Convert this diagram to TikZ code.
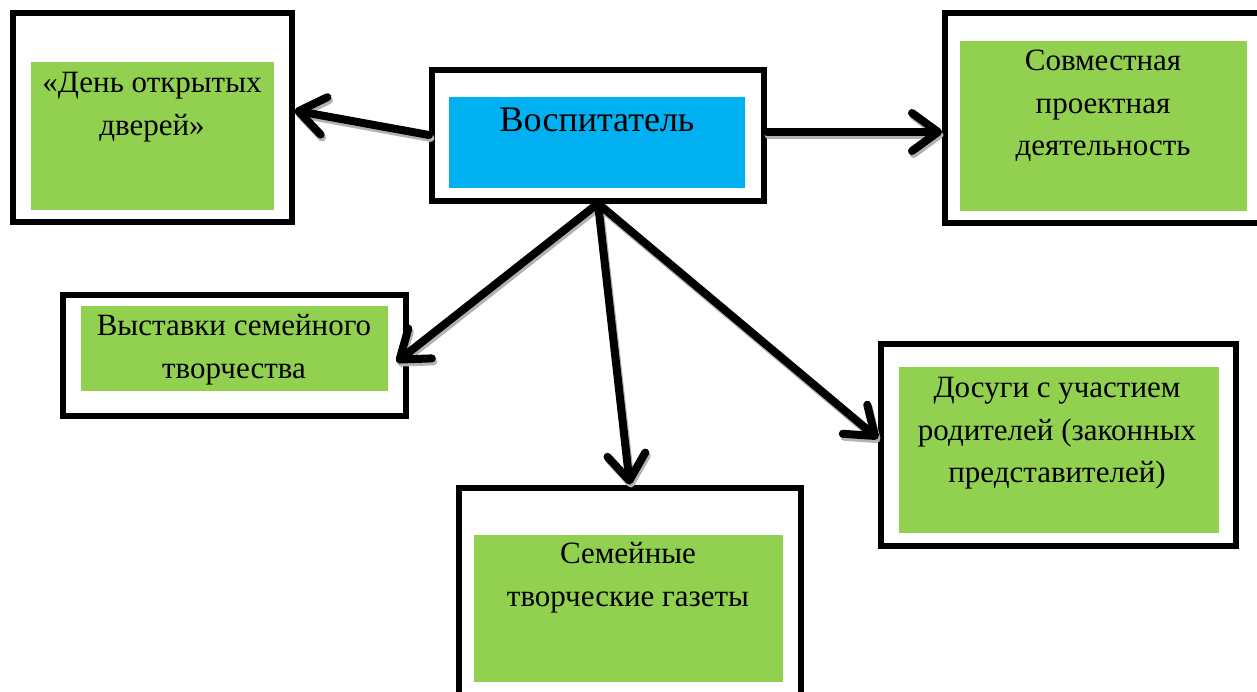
\documentclass[tikz,border=0pt]{standalone}
\usepackage{fontspec}
\setmainfont{Liberation Serif}
\newfontfamily\serfont{Liberation Serif}
\usetikzlibrary{arrows.meta}
\definecolor{boxgreen}{HTML}{92D050}
\definecolor{boxblue}{HTML}{00B0F0}
\tikzset{
  outerbox/.style={draw=black, line width=6pt, fill=white, rectangle, inner sep=0pt},
  greenbox/.style={fill=boxgreen, rectangle, inner sep=0pt, draw=none},
  bluebox/.style={fill=boxblue, rectangle, inner sep=0pt, draw=none},
  label/.style={anchor=north, align=center, inner sep=0pt, font={\serfont\fontsize{31}{42.5}\selectfont}},
  biglabel/.style={anchor=north, align=center, inner sep=0pt, font={\serfont\fontsize{36}{43}\selectfont}},
  connbase/.style={line width=8pt, line cap=round, line join=round,
    -{Straight Barb[length=26pt,width=38pt,round]}},
  conn/.style={connbase, draw=black},
  connshadow/.style={connbase, draw=gray!60, transform canvas={xshift=1.5pt,yshift=-3pt}}
}
\begin{document}
\begin{tikzpicture}[x=1pt,y=-1pt]
\useasboundingbox (0,0) rectangle (1257,691);
\clip (0,0) rectangle (1257,691);
\fill[white] (0,0) rectangle (1257,691);

% outer frames
\node[outerbox, minimum width=278.5pt, minimum height=209pt] (b1) at (152.25,117.5) {};
\node[outerbox, minimum width=332pt, minimum height=131pt] (c) at (598,135) {};
\node[outerbox, minimum width=317pt, minimum height=210pt] (b2) at (1103.5,118) {};
\node[outerbox, minimum width=343pt, minimum height=121pt] (b3) at (234,355) {};
\node[outerbox, minimum width=341.5pt, minimum height=222.5pt] (b4) at (629.75,598.75) {};
\node[outerbox, minimum width=354.5pt, minimum height=202pt] (b5) at (1058.25,444.5) {};

% coloured inner boxes
\node[greenbox, minimum width=243pt, minimum height=148pt] (g1) at (152.5,136) {};
\node[bluebox, minimum width=296pt, minimum height=91pt] (gc) at (597,142.5) {};
\node[greenbox, minimum width=287pt, minimum height=170pt] (g2) at (1103.5,126) {};
\node[greenbox, minimum width=307pt, minimum height=85pt] (g3) at (234.5,348.5) {};
\node[greenbox, minimum width=309pt, minimum height=147pt] (g4) at (628.5,608.5) {};
\node[greenbox, minimum width=320pt, minimum height=166pt] (g5) at (1059,450) {};

% texts
\node[label] (t1) at (152,62.6) {\strut«День открытых\\дверей»};
\node[biglabel] (tc) at (597,100.9) {\strut Воспитатель};
\node[label] (t2) at (1103,40.6) {\strut Совместная\\проектная\\деятельность};
\node[label] (t3) at (234,305.6) {\strut Выставки семейного\\творчества};
\node[label] (t4) at (628,533.6) {\strut Семейные\\творческие газеты};
\node[label] (t5) at (1057,367.6) {\strut Досуги с участием\\родителей (законных\\представителей)};

% connector shadows
\draw[connshadow] (c.west) -- ([yshift=7pt]b1.east);
\draw[connshadow] ([yshift=3pt]c.east) -- ([yshift=3pt]c.east -| b2.west);
\draw[connshadow] (c.south) -- ([xshift=-12pt,yshift=-7pt]b3.east);
\draw[connshadow] (c.south) -- (b4.north);
\draw[connshadow] (c.south) -- ([yshift=6pt]b5.west);
% connectors
\draw[conn] (c.west) -- ([yshift=7pt]b1.east);
\draw[conn] ([yshift=3pt]c.east) -- ([yshift=3pt]c.east -| b2.west);
\draw[conn] (c.south) -- ([xshift=-12pt,yshift=-7pt]b3.east);
\draw[conn] (c.south) -- (b4.north);
\draw[conn] (c.south) -- ([yshift=6pt]b5.west);
\end{tikzpicture}
\end{document}
